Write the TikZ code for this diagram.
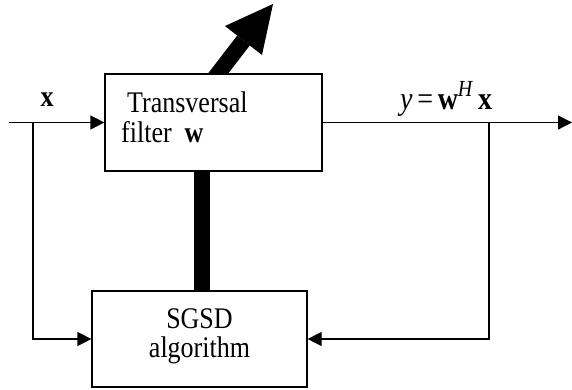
\documentclass[tikz,border=0pt]{standalone}
\usepackage{fontspec}
\usepackage{graphicx}
\setmainfont{Liberation Serif}
\usetikzlibrary{arrows.meta,calc}
\newcommand{\vst}[1]{\scalebox{1}[1.15]{#1}}
\tikzset{
  thin/.style={line width=1.2pt},
  sig/.style={thin,-{Triangle[length=14pt,width=14pt]}},
  blk/.style={draw,thin,fill=white,inner sep=0pt},
  txt/.style={inner sep=0pt,font=\fontsize{26}{30}\selectfont},
  bar/.style={line width=16pt},
}
\begin{document}
\begin{tikzpicture}[x=1pt,y=-1pt]
\useasboundingbox (0,0) rectangle (572,389);
% adjustable arrow through the filter
\coordinate (as) at (202.3,94);
\coordinate (ab) at (243.5,40.5);
\coordinate (aw1) at (225,26);
\coordinate (atip) at (273,4);
\coordinate (aw2) at (262,55);
\draw[bar] (as) -- (ab);
\fill (aw1) -- (atip) -- (aw2) -- cycle;
% blocks
\node[blk,minimum width=217pt,minimum height=97pt] (tf) at (213.5,122.5) {};
\node[blk,minimum width=215pt,minimum height=96pt] (alg) at (199.5,339) {};
% texts
\node[txt,anchor=base west] (t1) at (127,112) {\vst{Transversal}};
\node[txt,anchor=base west] (t2) at (121,142) {\vst{filter\ \ \textbf{w}}};
\node[txt,anchor=base] (s1) at (199.5,328) {\vst{SGSD}};
\node[txt,anchor=base] (s2) at (199.5,357) {\vst{algorithm}};
\node[txt,anchor=base] (xl) at (47,106) {\vst{\textbf{x}}};
\node[txt,anchor=base west,font=\fontsize{28}{30}\selectfont] (yl) at (400,109)
  {\vst{\textit{y}\,=\,\textbf{w}\raisebox{11pt}{\fontsize{20}{20}\selectfont\textit{H}}\,\textbf{x}}};
% connectors
\coordinate (in) at (9,122.5);
\coordinate (out) at (572,122.5);
\coordinate (tl) at (33,122.5);
\coordinate (tr) at (489,122.5);
\draw[sig] (in) -- (tf.west);
\draw[sig] (tf.east) -- (out);
\draw[sig] (tl) |- (alg.west);
\draw[sig] (tr) |- (alg.east);
\draw[bar] ([xshift=2pt]alg.north) -- ([xshift=2pt]alg.north |- tf.south);
\end{tikzpicture}
\end{document}
